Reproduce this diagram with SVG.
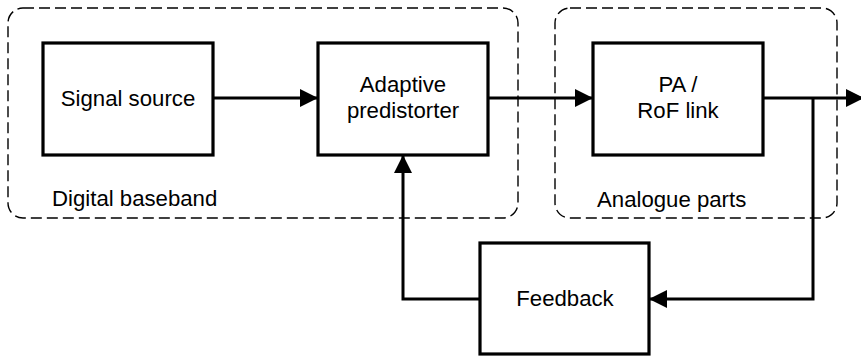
<svg xmlns="http://www.w3.org/2000/svg" width="861" height="357" viewBox="0 0 861 357">
<style>
.box{fill:#fff;stroke:#000;stroke-width:3.2}
.grp{fill:none;stroke:#000;stroke-width:1.4;stroke-dasharray:11 5}
.wire{fill:none;stroke:#000;stroke-width:3}
text{font-family:"Liberation Sans",Arial,sans-serif;font-size:22.2px;fill:#000;text-anchor:middle}
.lab{text-anchor:start}
</style>
<defs>
<marker id="ah" markerUnits="userSpaceOnUse" markerWidth="18" markerHeight="18" viewBox="0 0 18 18" refX="18" refY="9" orient="auto">
<path d="M0,0 L18,9 L0,18 Z" fill="#000"/>
</marker>
</defs>
<g id="digital-baseband">
<rect class="grp" x="8" y="8" width="510" height="210" rx="15" ry="15"/>
<text class="lab" x="52" y="206">Digital baseband</text>
</g>
<g id="analogue-parts">
<rect class="grp" x="555" y="8" width="282" height="210" rx="15" ry="15"/>
<text class="lab" x="597" y="207">Analogue parts</text>
</g>
<g id="connectors">
<path class="wire" d="M213,98 L318,98" marker-end="url(#ah)"/>
<path class="wire" d="M488,98 L593,98" marker-end="url(#ah)"/>
<path class="wire" d="M763,98 L864,98" marker-end="url(#ah)"/>
<path class="wire" d="M813,98 L813,299 L649,299" marker-end="url(#ah)"/>
<path class="wire" d="M480,299 L403,299 L403,155" marker-end="url(#ah)"/>
</g>
<g id="signal-source">
<rect class="box" x="43" y="43" width="170" height="112"/>
<text x="128" y="106">Signal source</text>
</g>
<g id="adaptive-predistorter">
<rect class="box" x="318" y="43" width="170" height="112"/>
<text x="403" y="92">Adaptive</text>
<text x="403" y="118">predistorter</text>
</g>
<g id="pa-rof-link">
<rect class="box" x="593" y="43" width="170" height="112"/>
<text x="678" y="92">PA /</text>
<text x="678" y="118">RoF link</text>
</g>
<g id="feedback">
<rect class="box" x="480" y="243" width="169" height="111"/>
<text x="565" y="306">Feedback</text>
</g>
</svg>
